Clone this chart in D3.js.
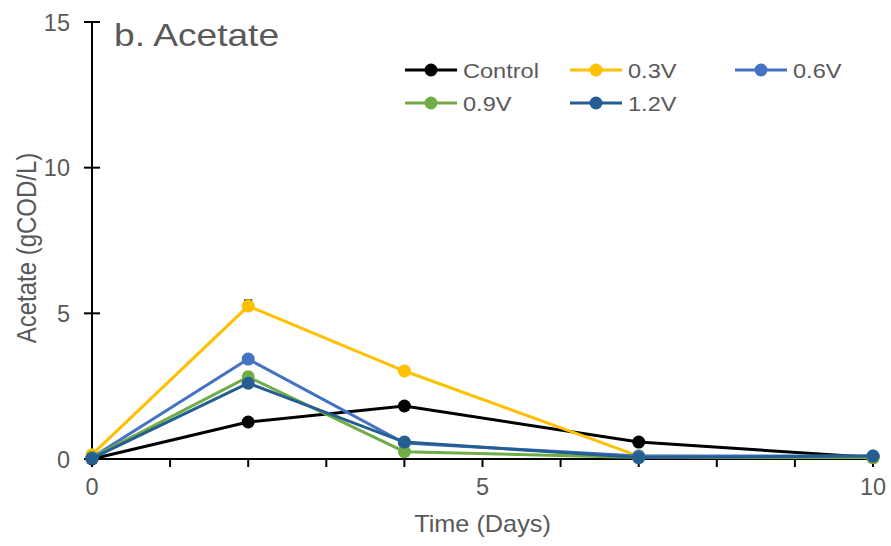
<!DOCTYPE html>
<html>
<head>
<meta charset="utf-8">
<script src="https://cdn.jsdelivr.net/npm/d3@7"></script>
<style>
  body { margin: 0; background: #fff; }
  text { font-family: Arial, "Liberation Sans", sans-serif; fill: #595959; }
</style>
</head>
<body>
<svg id="chart" width="891" height="546"></svg>
<script>
// data
const days = [0, 2, 4, 7, 10]
const control = [0.0, 1.27, 1.82, 0.58, 0.05]
const v03 = [0.15, 5.25, 3.02, 0.1, 0.05]
const v06 = [0.05, 3.43, 0.55, 0.1, 0.1]
const v09 = [0.05, 2.82, 0.25, 0.05, 0.05]
const v12 = [0.02, 2.6, 0.58, 0.05, 0.1]
const names = ["Control", "0.3V", "0.6V", "0.9V", "1.2V"]
const colors = ["#000000", "#FFC000", "#4472C4", "#70AD47", "#255E91"]
const yTicks = [0, 5, 10, 15]
const xTicks = [0, 5, 10]

const series = [control, v03, v06, v09, v12].map((vals, i) => ({
    name: names[i], color: colors[i],
    pts: vals.map((v, j) => ({x: days[j], y: v}))
}))

const svg = d3.select("#chart")
const m = {l: 92, r: 18, t: 22, b: 87}
const w = 891 - m.l - m.r
const h = 546 - m.t - m.b
const lw = 3, r = 6.5

// the source picture is a bit wider than tall, so text gets a horizontal stretch
function label(parent, x, y, str, size, anchor, sx, rot) {
    const t = parent.append("text")
        .attr("transform", `translate(${x},${y}) scale(${sx},1)` + (rot ? ` rotate(${rot})` : ""))
        .attr("text-anchor", anchor)
        .style("font-size", size + "px")
        .text(str)
    return t
}

const g = svg.append("g").attr("transform", `translate(${m.l},${m.t})`)

const x = d3.scaleLinear().domain([0, 10]).range([0, w])
const y = d3.scaleLinear().domain([0, 15]).range([h, 0])

// y axis, ticks cross the line
const yAxis = g.append("g")
yAxis.append("line").attr("y1", 0).attr("y2", h).attr("stroke", "#000").attr("stroke-width", 2)
yAxis.selectAll("line.tk").data(yTicks).join("line").attr("class", "tk")
    .attr("x1", -8).attr("x2", 8)
    .attr("y1", d => y(d)).attr("y2", d => y(d))
    .attr("stroke", "#000").attr("stroke-width", 2)
yTicks.forEach(d => label(yAxis, -22, y(d) + 8.5, d, 23.5, "end", 1.0))

// x axis, ticks each day below the line
const xAxis = g.append("g").attr("transform", `translate(0,${h})`)
xAxis.selectAll("line.tk").data(d3.range(0, 11)).join("line").attr("class", "tk")
    .attr("x1", d => x(d)).attr("x2", d => x(d))
    .attr("y1", 0).attr("y2", 8)
    .attr("stroke", "#000").attr("stroke-width", 2)
xAxis.append("line").attr("x1", 0).attr("x2", w).attr("stroke", "#000").attr("stroke-width", 2)
xTicks.forEach(d => label(xAxis, x(d), 36, d, 23.5, "middle", 1.0))

// labels
label(svg, m.l + w / 2, 532, "Time (Days)", 23, "middle", 1.1)
label(svg, 36, 248, "Acetate (gCOD/L)", 24, "middle", 1.15, -90)
label(svg, 114, 46, "b. Acetate", 32, "start", 1.16)

// lines
const line = d3.line().x(d => x(d.x)).y(d => y(d.y))

// small error bar on 0.3V peak
g.append("line")
    .attr("x1", x(2)).attr("x2", x(2))
    .attr("y1", y(5.25)).attr("y2", y(5.45))
    .attr("stroke", "#000").attr("stroke-width", 1.5)
g.append("line")
    .attr("x1", x(2) - 4).attr("x2", x(2) + 4)
    .attr("y1", y(5.45)).attr("y2", y(5.45))
    .attr("stroke", "#000").attr("stroke-width", 1.5)

series.forEach(s => {
    g.append("path").datum(s.pts)
        .attr("d", line).attr("fill", "none")
        .attr("stroke", s.color).attr("stroke-width", lw)
    g.selectAll(null).data(s.pts).join("circle")
        .attr("cx", d => x(d.x)).attr("cy", d => y(d.y))
        .attr("r", r).attr("fill", s.color)
})

// legend
const legPos = [[405, 70], [570, 70], [735, 70], [405, 103], [570, 103]]
series.forEach((s, i) => {
    const lg = svg.append("g").attr("transform", `translate(${legPos[i][0]},${legPos[i][1]})`)
    lg.append("line").attr("x1", 0).attr("x2", 52).attr("stroke", s.color).attr("stroke-width", lw)
    lg.append("circle").attr("cx", 26).attr("r", r).attr("fill", s.color)
    label(lg, 58, 7.5, s.name, 20.5, "start", 1.15)
})
</script>
</body>
</html>
